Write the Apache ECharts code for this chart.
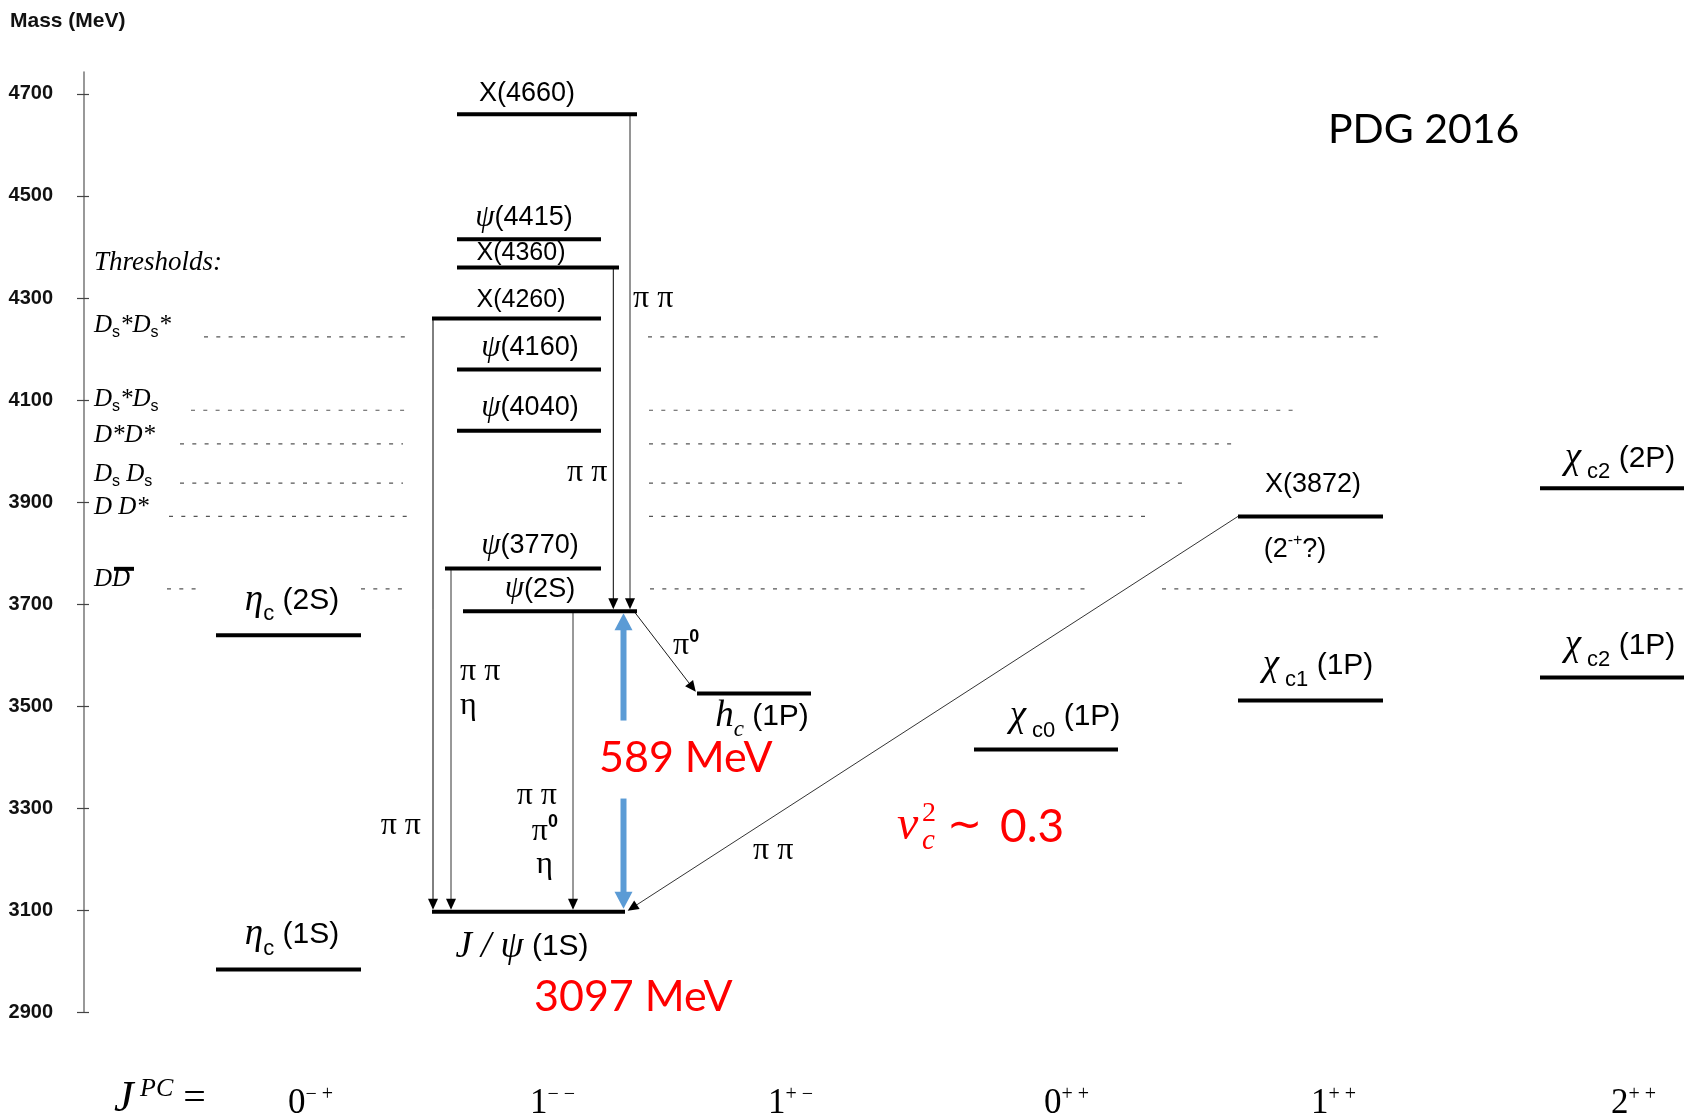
<!DOCTYPE html>
<html>
<head>
<meta charset="utf-8">
<title>Charmonium spectrum</title>
<script src="https://cdn.jsdelivr.net/npm/echarts@6.0.0/dist/echarts.min.js"></script>
<style>
html, body { margin: 0; padding: 0; background: #ffffff; }
#chart { width: 1684px; height: 1117px; }
</style>
</head>
<body>
<div id="chart"></div>
<script>
// ---------------- values ----------------
const massTicks = [2900, 3100, 3300, 3500, 3700, 3900, 4100, 4300, 4500, 4700];

// J^PC column headings
const jpcSpin = ['0', '1', '1', '0', '1', '2'];
const jpcParity = ['− +', '− −', '+ −', '+ +', '+ +', '+ +'];

// charmonium(-like) states, masses in MeV
const stateLabels = [
  '{g|η}{b|c} {t|(1S)}',
  '{g|η}{b|c} {t|(2S)}',
  '{g|J / ψ} {t|(1S)}',
  '{g|ψ}{t|(2S)}',
  '{g|ψ}{t|(3770)}',
  '{g|ψ}{t|(4040)}',
  '{g|ψ}{t|(4160)}',
  '{t|X(4260)}',
  '{t|X(4360)}',
  '{g|ψ}{t|(4415)}',
  '{t|X(4660)}',
  '{g|h}{bi|c} {t|(1P)}',
  '{g|χ}{b| c0} {t|(1P)}',
  '{g|χ}{b| c1} {t|(1P)}',
  '{t|X(3872)}',
  '{g|χ}{b| c2} {t|(1P)}',
  '{g|χ}{b| c2} {t|(2P)}'
];
const stateMass = [2984, 3639, 3097, 3686, 3770, 4040, 4160, 4260, 4360, 4415, 4660, 3525, 3415, 3511, 3872, 3556, 3927];
const stateNotes = ['', '', '', '', '', '', '', '', '', '', '', '', '', '', '{t|(2}{p|-+}{t|?)}', '', ''];

// open-charm thresholds
const thresholdLabels = [
  '{d|D}{d|D}',
  '{d|D D*}',
  '{d|D}{s|s} {d|D}{s|s}',
  '{d|D*D*}',
  '{d|D}{s|s}{d|*D}{s|s}',
  '{d|D}{s|s}{d|*D}{s|s}{d|*}'
];
const thresholdMass = [3730, 3872, 3937, 4014, 4080, 4224];

// transitions (indices into the state list)
const transFrom = [10, 8, 7, 4, 3, 3, 14];
const transTo = [3, 3, 2, 2, 2, 11, 2];
const decayLabels = ['{p|π π}', '{p|π π}', '{p|π π}', '{p|η}', '{p|π π}', '{p|π π}', '{p|π}{z|0}', '{p|η}', '{p|π}{z|0}', '{p|π π}'];

// J/psi and psi(2S) used for the splitting annotation
const jpsiIndex = 2;
const psi2SIndex = 3;

const soundSpeed = '0.3';

// ---------------- layout ----------------
const SANS = '"Liberation Sans", Arial, Helvetica, sans-serif';
const SERIF = '"Liberation Serif", "Times New Roman", Times, serif';
const HUMAN = 'Lato, "Open Sans", sans-serif';
const RED = '#ff0000';
const BLUE = '#5b9bd5';
const LEVEL_W = 4;

const stateSpan = [[216, 361], [216, 361], [432, 625], [463, 637], [445, 601], [457, 601], [457, 601],
  [432, 601], [457, 619], [457, 601], [457, 637], [697, 811], [974, 1118], [1238, 1383], [1238, 1383],
  [1540, 1684], [1540, 1684]];
// [label centre x, vertical offset from the level (px), text class]
const stateLabelAt = [[292, -35, 'L'], [292, -35, 'L'], [522, 35, 'L'], [540, -22, 'M'], [530, -23, 'M'],
  [530, -23, 'M'], [530, -22, 'M'], [521, -18, 'S'], [521, -14, 'S'], [524, -22, 'M'], [527, -21, 'M'],
  [762, 23, 'L'], [1065, -33, 'L'], [1318, -35, 'L'], [1313, -32, 'M'], [1620, -32, 'L'], [1620, -30, 'L']];
const noteAt = [1295, 33];

const transX = [[630, 630], [613.3, 613.3], [433, 433], [451, 451], [573, 573], [634, 697], [1238, 626]];
const transStyle = [['#8a8a8a', 1.8], ['#000', 1], ['#000', 1], ['#333', 1], ['#333', 1], ['#000', 0.9], ['#000', 0.8]];
// [x, mass anchor, align]
const decayLabelAt = [[633, 4298, 'left'], [567, 3957, 'left'], [460, 3567, 'left'], [460, 3502, 'left'],
  [421, 3265, 'right'], [557, 3324, 'right'], [558, 3255, 'right'], [553, 3189, 'right'],
  [673, 3618, 'left'], [753, 3216, 'left']];

const thresholdSegs = [
  [[167, 200], [361, 403], [650, 1090], [1162, 1684]],
  [[169, 408], [649, 1150]],
  [[180, 403], [649, 1187]],
  [[180, 403], [649, 1235]],
  [[191, 405], [649, 1294]],
  [[204, 407], [648, 1378]]
];
const thresholdLabelDy = [-9, -9, -9, -9, -10.5, -11];
const thresholdLabelX = 94;
const barOver = [114, 134, -20];

const jpcX = [288, 530, 768, 1044, 1311, 1611];
const splitX = 623.5;
const splitGap = [41, 37];
const soundSpeedMass = 3265;

// ---------------- text styles ----------------
const RICH = {
  L: {
    g: { fontFamily: SERIF, fontStyle: 'italic', fontSize: 37, lineHeight: 50 },
    t: { fontFamily: SANS, fontSize: 30, lineHeight: 50 },
    b: { fontFamily: SANS, fontSize: 22, verticalAlign: 'bottom' },
    bi: { fontFamily: SERIF, fontStyle: 'italic', fontSize: 23, verticalAlign: 'bottom' }
  },
  M: {
    g: { fontFamily: SERIF, fontStyle: 'italic', fontSize: 31, lineHeight: 34 },
    t: { fontFamily: SANS, fontSize: 27, lineHeight: 34 },
    p: { fontFamily: SANS, fontSize: 16, verticalAlign: 'top' }
  },
  S: {
    t: { fontFamily: SANS, fontSize: 25, lineHeight: 30 }
  }
};
const BASE = {
  L: { fontFamily: SANS, fontSize: 30 },
  M: { fontFamily: SANS, fontSize: 27 },
  S: { fontFamily: SANS, fontSize: 25 }
};
const RICH_THR = {
  d: { fontFamily: SERIF, fontStyle: 'italic', fontSize: 25, lineHeight: 30 },
  s: { fontFamily: SANS, fontSize: 16, verticalAlign: 'bottom' }
};
const RICH_DECAY = {
  p: { fontFamily: SERIF, fontSize: 32, lineHeight: 36 },
  z: { fontFamily: SANS, fontWeight: 'bold', fontSize: 18, verticalAlign: 'top' }
};
const RICH_JPC = {
  J: { fontFamily: SERIF, fontStyle: 'italic', fontSize: 44, lineHeight: 46 },
  PC: { fontFamily: SERIF, fontStyle: 'italic', fontSize: 26, verticalAlign: 'top' },
  e: { fontFamily: SERIF, fontSize: 40, lineHeight: 46 },
  d: { fontFamily: SERIF, fontSize: 35, lineHeight: 40 },
  s: { fontFamily: SERIF, fontSize: 20, verticalAlign: 'top' }
};

function txt(x, y, text, rich, align, base) {
  return {
    type: 'text', x: x, y: y, silent: true,
    style: Object.assign({
      text: text, rich: rich, fill: '#000',
      align: align, verticalAlign: 'middle',
      textAlign: align, textVerticalAlign: 'middle'
    }, base || {})
  };
}

function arrow(p1, tip, color, width, headLen, headW, headColor) {
  const dx = tip[0] - p1[0], dy = tip[1] - p1[1];
  const L = Math.hypot(dx, dy) || 1;
  const ux = dx / L, uy = dy / L;
  const bx = tip[0] - ux * headLen, by = tip[1] - uy * headLen;
  return [
    { type: 'line', silent: true, shape: { x1: p1[0], y1: p1[1], x2: bx + ux, y2: by + uy },
      style: { stroke: color, lineWidth: width, lineCap: 'butt' } },
    { type: 'polygon', silent: true,
      shape: { points: [[tip[0], tip[1]], [bx - uy * headW / 2, by + ux * headW / 2], [bx + uy * headW / 2, by - ux * headW / 2]] },
      style: { fill: headColor } }
  ];
}

// ---------------- series ----------------
const thresholdSeries = {
  type: 'custom', name: 'thresholds', z: 1, silent: true,
  data: thresholdMass.map((m, i) => [thresholdSegs[i][0][0], m]),
  encode: { x: 0, y: 1 },
  renderItem: function (params, api) {
    const i = params.dataIndex;
    const m = api.value(1);
    const els = thresholdSegs[i].map(function (s) {
      const a = api.coord([s[0], m]), b = api.coord([s[1], m]);
      return { type: 'line', silent: true, shape: { x1: a[0], y1: a[1], x2: b[0], y2: b[1] },
        style: { stroke: '#555', lineWidth: 1.2, lineDash: [4, 8.3] } };
    });
    const y = api.coord([thresholdLabelX, m])[1];
    els.push(txt(thresholdLabelX, y + thresholdLabelDy[i], thresholdLabels[i], RICH_THR, 'left',
      { fontFamily: SERIF, fontStyle: 'italic', fontSize: 25 }));
    if (i === 0) {
      els.push({ type: 'rect', silent: true,
        shape: { x: barOver[0], y: y + barOver[2] - 2, width: barOver[1] - barOver[0], height: 4 },
        style: { fill: '#000' } });
    }
    return { type: 'group', children: els };
  }
};

const transitionSeries = {
  type: 'custom', name: 'transitions', z: 2, silent: true,
  data: transFrom.map((f, k) => [transX[k][0], stateMass[f], transX[k][1], stateMass[transTo[k]]]),
  encode: { x: [0, 2], y: [1, 3] },
  renderItem: function (params, api) {
    const k = params.dataIndex;
    const p1 = api.coord([api.value(0), api.value(1)]);
    const p2 = api.coord([api.value(2), api.value(3)]);
    const dx = p2[0] - p1[0], dy = p2[1] - p1[1], L = Math.hypot(dx, dy);
    const tip = [p2[0] - dx / L * LEVEL_W / 2, p2[1] - dy / L * LEVEL_W / 2];
    return { type: 'group', children: arrow(p1, tip, transStyle[k][0], transStyle[k][1], 11, 10, '#000') };
  }
};

const decaySeries = {
  type: 'custom', name: 'decay modes', z: 3, silent: true,
  data: decayLabelAt.map(d => [d[0], d[1]]),
  encode: { x: 0, y: 1 },
  renderItem: function (params, api) {
    const i = params.dataIndex;
    const p = api.coord([api.value(0), api.value(1)]);
    return txt(p[0], p[1], decayLabels[i], RICH_DECAY, decayLabelAt[i][2], { fontFamily: SERIF, fontSize: 32 });
  }
};

const levelSeries = {
  type: 'custom', name: 'levels', z: 5, silent: true,
  data: stateMass.map((m, i) => [stateSpan[i][0], stateSpan[i][1], m]),
  encode: { x: [0, 1], y: 2 },
  renderItem: function (params, api) {
    const i = params.dataIndex;
    const m = api.value(2);
    const a = api.coord([api.value(0), m]);
    const b = api.coord([api.value(1), m]);
    const lab = stateLabelAt[i];
    const els = [
      { type: 'line', silent: true, shape: { x1: a[0], y1: a[1], x2: b[0], y2: b[1] },
        style: { stroke: '#000', lineWidth: LEVEL_W, lineCap: 'butt' } },
      txt(lab[0], a[1] + lab[1], stateLabels[i], RICH[lab[2]], 'center', BASE[lab[2]])
    ];
    if (stateNotes[i]) {
      els.push(txt(noteAt[0], a[1] + noteAt[1], stateNotes[i], RICH.M, 'center', BASE.M));
    }
    return { type: 'group', children: els };
  }
};

const splitSeries = {
  type: 'custom', name: 'splitting', z: 6, silent: true,
  data: [[splitX, stateMass[jpsiIndex], stateMass[psi2SIndex]]],
  encode: { x: 0, y: [1, 2] },
  renderItem: function (params, api) {
    const x = api.value(0);
    const mLo = api.value(1), mHi = api.value(2);
    const lo = api.coord([x, mLo])[1];
    const hi = api.coord([x, mHi])[1];
    const mid = (lo + hi) / 2;
    let els = [];
    els = els.concat(arrow([x, mid - splitGap[0]], [x, hi + LEVEL_W / 2], BLUE, 6, 17, 18, BLUE));
    els = els.concat(arrow([x, mid + splitGap[1]], [x, lo - LEVEL_W / 2 - 1], BLUE, 6, 17, 18, BLUE));
    els.push(txt(599, mid - 3.5, (mHi - mLo) + ' MeV', null, 'left',
      { fontFamily: HUMAN, fontSize: 43, fill: RED }));
    els.push(txt(534, lo + 85, mLo + ' MeV', null, 'left',
      { fontFamily: HUMAN, fontSize: 43, fill: RED }));
    return { type: 'group', children: els };
  }
};

const noteSeries = {
  type: 'custom', name: 'notes', z: 6, silent: true,
  data: [[897, soundSpeedMass]],
  encode: { x: 0, y: 1 },
  renderItem: function (params, api) {
    const p = api.coord([api.value(0), api.value(1)]);
    const yThr = api.coord([thresholdLabelX, thresholdMass[thresholdMass.length - 1]])[1];
    return { type: 'group', children: [
      txt(p[0], p[1], 'v', null, 'left', { fontFamily: SERIF, fontStyle: 'italic', fontSize: 48, fill: RED }),
      txt(p[0] + 25, p[1] - 12, '2', null, 'left', { fontFamily: SERIF, fontSize: 28, fill: RED }),
      txt(p[0] + 25, p[1] + 15, 'c', null, 'left', { fontFamily: SERIF, fontStyle: 'italic', fontSize: 29, fill: RED }),
      txt(p[0] + 50, p[1] + 1, '∼', null, 'left', { fontFamily: SERIF, fontSize: 42, fill: RED }),
      txt(p[0] + 103, p[1] + 1, soundSpeed, null, 'left', { fontFamily: HUMAN, fontSize: 46, fill: RED }),
      txt(thresholdLabelX, yThr - 74, 'Thresholds:', null, 'left', { fontFamily: SERIF, fontStyle: 'italic', fontSize: 27 })
    ] };
  }
};

const jpcSeries = {
  type: 'custom', name: 'JPC', z: 6, silent: true,
  data: jpcX.map(x => [x, massTicks[0]]),
  encode: { x: 0, y: 1 },
  renderItem: function (params, api) {
    const i = params.dataIndex;
    const p = api.coord([api.value(0), api.value(1)]);
    const els = [txt(p[0], p[1] + 92, '{d|' + jpcSpin[i] + '}{s|' + jpcParity[i] + '}', RICH_JPC, 'left',
      { fontFamily: SERIF, fontSize: 35 })];
    if (i === 0) {
      els.push(txt(114, p[1] + 87, '{J|J}{PC| PC}{e| =}', RICH_JPC, 'left', { fontFamily: SERIF, fontSize: 40 }));
    }
    return { type: 'group', children: els };
  }
};

// ---------------- chart ----------------
const chart = echarts.init(document.getElementById('chart'), null, { renderer: 'canvas' });
chart.setOption({
  animation: false,
  backgroundColor: '#ffffff',
  title: [
    { text: 'Mass (MeV)', left: 10, top: 11, padding: 0,
      textStyle: { fontFamily: SANS, fontWeight: 'bold', fontSize: 21, lineHeight: 21, color: '#111' } },
    { text: 'PDG 2016', left: 1328, top: 108, padding: 0,
      textStyle: { fontFamily: HUMAN, fontWeight: 'normal', fontSize: 41, lineHeight: 43, color: '#000' } }
  ],
  grid: { left: 84, right: 0, top: 72, bottom: 104.7, containLabel: false, outerBoundsMode: 'none' },
  xAxis: { type: 'value', min: 84, max: 1684, show: false },
  yAxis: [
    {
      type: 'value', min: 2900, max: 4743, interval: 200, position: 'left',
      axisLine: { show: true, lineStyle: { color: '#7f7f7f', width: 1.6 } },
      axisTick: { show: true, inside: false, length: 7, customValues: massTicks, lineStyle: { color: '#444', width: 1.2 } },
      axisLabel: {
        customValues: massTicks, margin: 31, color: '#111',
        fontFamily: SANS, fontWeight: 'bold', fontSize: 20,
        formatter: v => (massTicks.indexOf(v) >= 0 ? String(v) : '')
      },
      splitLine: { show: false }
    },
    {
      type: 'value', min: 2900, max: 4743, interval: 200, position: 'left',
      axisLine: { show: false },
      axisTick: { show: true, inside: true, length: 5, customValues: massTicks, lineStyle: { color: '#444', width: 1.2 } },
      axisLabel: { show: false },
      splitLine: { show: false }
    }
  ],
  series: [thresholdSeries, transitionSeries, decaySeries, levelSeries, splitSeries, noteSeries, jpcSeries]
});
</script>
</body>
</html>
